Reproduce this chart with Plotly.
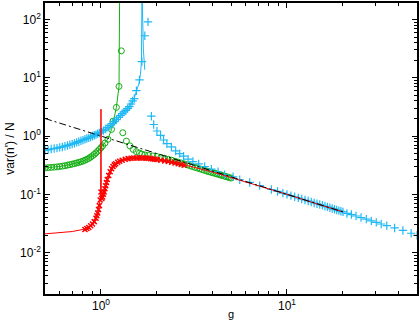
import plotly.graph_objects as go

# Colors
red = 'rgb(255,0,0)'
green = 'rgb(20,175,20)'
cyan = 'rgb(30,185,245)'
black = 'rgb(0,0,0)'

# ---- red : theory line + simulation (x markers)
red_line_g = [0.5, 0.6, 0.7, 0.8, 0.85, 0.9, 0.95, 0.98, 0.995, 1.0, 1.004, 1.02, 1.05,
              1.1, 1.2, 1.3, 1.4, 1.6, 1.8, 2.0, 2.5, 3.0, 4.0, 5.0, 7.0, 10.0, 14.0, 20.0]
red_line_v = [0.021, 0.022, 0.023, 0.025, 0.026, 0.030, 0.043, 0.064, 0.1, 2.9, 0.088, 0.09, 0.125,
              0.21, 0.335, 0.385, 0.41, 0.42, 0.415, 0.395, 0.345, 0.305, 0.24, 0.195, 0.142, 0.1, 0.071, 0.05]

red_sim_g = [0.82, 0.84, 0.86, 0.88, 0.90, 0.92, 0.94, 0.95, 0.96, 0.97, 0.98, 0.99, 1.0,
             1.01, 1.02, 1.03, 1.04, 1.05, 1.06, 1.07, 1.08, 1.10, 1.12, 1.14, 1.16, 1.18,
             1.20, 1.23, 1.26, 1.30, 1.35, 1.40, 1.45, 1.50, 1.55, 1.60, 1.65, 1.70, 1.75,
             1.80, 1.85, 1.90, 1.95, 2.00, 2.1, 2.2, 2.3, 2.4, 2.5, 2.6, 2.7, 2.8]
red_sim_v = [0.025, 0.026, 0.027, 0.029, 0.031, 0.034, 0.039, 0.043, 0.048, 0.055, 0.064, 0.08, 0.11,
             0.085, 0.09, 0.10, 0.11, 0.125, 0.14, 0.16, 0.18, 0.21, 0.245, 0.275, 0.30, 0.32,
             0.335, 0.355, 0.37, 0.385, 0.40, 0.41, 0.415, 0.42, 0.42, 0.42, 0.42, 0.42, 0.418,
             0.415, 0.41, 0.405, 0.40, 0.395, 0.385, 0.375, 0.365, 0.355, 0.345, 0.335, 0.325, 0.315]

# ---- green : theory line (below transition) + simulation (circles)
green_line_g = [0.5, 0.6, 0.7, 0.8, 0.9, 0.95, 1.0, 1.05, 1.09, 1.14, 1.17, 1.21, 1.25, 1.255, 1.26]
green_line_v = [0.285, 0.30, 0.33, 0.372, 0.46, 0.53, 0.63, 0.76, 0.9, 1.3, 1.8, 3.1, 7.1, 25, 300]

green_sim_g = [0.50, 0.52, 0.54, 0.56, 0.58, 0.60, 0.62, 0.64, 0.66, 0.68, 0.70, 0.72, 0.74,
               0.76, 0.78, 0.80, 0.82, 0.84, 0.86, 0.88, 0.90, 0.92, 0.94, 0.96, 0.98, 1.00,
               1.02, 1.05, 1.09, 1.14, 1.16, 1.21, 1.25,
               1.287, 1.31, 1.37, 1.43, 1.49, 1.55, 1.61, 1.66, 1.72, 1.8, 1.9, 2.0, 2.1,
               2.2, 2.3, 2.4, 2.5, 2.6, 2.7, 2.8, 2.9, 3.0, 3.1, 3.2, 3.3, 3.4, 3.5, 3.6,
               3.7, 3.8, 3.9, 4.0, 4.1, 4.2, 4.3, 4.4, 4.5, 4.6, 4.7, 4.8, 4.9, 5.0]
green_sim_v = [0.285, 0.287, 0.29, 0.293, 0.296, 0.30, 0.305, 0.31, 0.317, 0.323, 0.33, 0.337, 0.345,
               0.353, 0.362, 0.372, 0.385, 0.40, 0.415, 0.435, 0.46, 0.485, 0.515, 0.55, 0.59, 0.63,
               0.68, 0.76, 0.88, 1.3, 1.8, 3.1, 7.1,
               29.0, 1.14, 0.82, 0.68, 0.59, 0.54, 0.51, 0.49, 0.475, 0.465, 0.455, 0.445, 0.43,
               0.415, 0.40, 0.385, 0.37, 0.357, 0.345, 0.333, 0.322, 0.31, 0.30, 0.29, 0.282, 0.274, 0.266, 0.258,
               0.251, 0.245, 0.239, 0.234, 0.229, 0.224, 0.219, 0.214, 0.21, 0.206, 0.202, 0.198, 0.194, 0.19]

# ---- cyan : theory line (both sides of divergence) + simulation (plus markers)
cyan_line_g = [0.5, 0.6, 0.7, 0.8, 0.9, 1.0, 1.1, 1.2, 1.3, 1.4, 1.5, 1.55, 1.6, 1.63, 1.65, 1.66]
cyan_line_v = [0.57, 0.64, 0.73, 0.85, 1.0, 1.17, 1.45, 1.85, 2.35, 3.0, 4.2, 5.6, 8.0, 11.5, 19, 250]
cyan_line2_g = [1.665, 1.69, 1.72]
cyan_line2_v = [250, 30, 13.7]

cyan_sim_g = [0.50, 0.52, 0.54, 0.56, 0.58, 0.60, 0.62, 0.64, 0.66, 0.68, 0.70, 0.72, 0.74,
              0.76, 0.78, 0.80, 0.82, 0.84, 0.86, 0.88, 0.90, 0.92, 0.94, 0.96, 0.98, 1.00,
              1.03, 1.06, 1.09, 1.12, 1.15, 1.18, 1.21, 1.24, 1.27, 1.30, 1.33, 1.36, 1.39,
              1.42, 1.45, 1.48, 1.51, 1.55, 1.61, 1.66, 1.72, 1.79,
              1.866, 1.92, 2.0, 2.09, 2.17, 2.26, 2.39, 2.52, 2.65, 2.78, 2.94, 3.12, 3.35,
              3.61, 3.92, 4.26, 4.62, 5.13, 5.57, 6.3, 7.13, 8.24, 8.9,
              9.5, 10.0, 10.5, 11.0, 11.5, 12.0, 12.5, 13.0, 13.5, 14.0, 14.5, 15.0, 15.5,
              16.0, 16.5, 17.0, 17.5, 18.0, 18.5, 19.0, 19.5, 20.0,
              21.0, 22.2, 23.5, 25.0, 26.7, 28.4, 30.2, 32.1, 34.4, 37.9, 42.0, 46.5, 50.0]
cyan_sim_v = [0.57, 0.58, 0.60, 0.61, 0.62, 0.64, 0.65, 0.67, 0.69, 0.71, 0.73, 0.75, 0.78,
              0.80, 0.83, 0.85, 0.88, 0.91, 0.93, 0.96, 1.0, 1.03, 1.06, 1.10, 1.13, 1.17,
              1.24, 1.32, 1.41, 1.52, 1.64, 1.77, 1.92, 2.08, 2.25, 2.42, 2.6, 2.75, 2.95,
              3.2, 3.55, 4.0, 4.4, 6.0, 9.2, 18.9, 52.6, 91.0,
              2.19, 1.58, 1.22, 1.03, 0.855, 0.739, 0.65, 0.555, 0.5, 0.451, 0.401, 0.365, 0.333,
              0.30, 0.271, 0.244, 0.217, 0.20, 0.178, 0.16, 0.141, 0.121, 0.112,
              0.105, 0.1, 0.095, 0.091, 0.087, 0.083, 0.08, 0.077, 0.074, 0.071, 0.069, 0.067, 0.065,
              0.0625, 0.061, 0.059, 0.057, 0.0556, 0.054, 0.0526, 0.0513, 0.05,
              0.047, 0.045, 0.0425, 0.04, 0.0375, 0.035, 0.033, 0.031, 0.029, 0.0265, 0.024, 0.0215, 0.0198]

# ---- black dash-dot : asymptote
black_g = [0.5, 20.0]
black_v = [2.0, 0.05]

# Axis ticks
x_major = [1, 10]
x_major_text = ['10<sup>0</sup>', '10<sup>1</sup>']
x_minor = [0.6, 0.7, 0.8, 0.9, 2, 3, 4, 5, 6, 7, 8, 9, 20, 30, 40]
y_major = [0.01, 0.1, 1, 10, 100]
y_major_text = ['10<sup>-2</sup>', '10<sup>-1</sup>', '10<sup>0</sup>', '10<sup>1</sup>', '10<sup>2</sup>']
y_minor = [m * 10.0 ** e for e in range(-3, 3) for m in range(2, 10)]

fig = go.Figure()

fig.add_trace(go.Scatter(x=green_sim_g, y=green_sim_v, mode='markers',
                         marker=dict(symbol='circle-open', size=6, color=green, line=dict(width=1, color=green))))
fig.add_trace(go.Scatter(x=green_line_g, y=green_line_v, mode='lines', line=dict(color=green, width=1)))

fig.add_trace(go.Scatter(x=cyan_sim_g, y=cyan_sim_v, mode='markers',
                         marker=dict(symbol='cross-thin', size=6, color=cyan, line=dict(width=1.2, color=cyan))))
fig.add_trace(go.Scatter(x=cyan_line_g, y=cyan_line_v, mode='lines', line=dict(color=cyan, width=1)))
fig.add_trace(go.Scatter(x=cyan_line2_g, y=cyan_line2_v, mode='lines', line=dict(color=cyan, width=1)))

fig.add_trace(go.Scatter(x=red_sim_g, y=red_sim_v, mode='markers',
                         marker=dict(symbol='x-thin', size=5, color=red, line=dict(width=1.5, color=red))))
fig.add_trace(go.Scatter(x=red_line_g, y=red_line_v, mode='lines', line=dict(color=red, width=1)))

fig.add_trace(go.Scatter(x=black_g, y=black_v, mode='lines',
                         line=dict(color=black, width=1, dash='7px,3px,2px,3px')))

axis_common = dict(type='log', showgrid=False, zeroline=False,
                   showline=True, linecolor='black', linewidth=1.5, mirror='allticks',
                   ticks='inside', ticklen=5, tickwidth=1, tickcolor='black',
                   tickfont=dict(size=12, color='black'))

fig.update_layout(
    width=420, height=321,
    margin=dict(l=45, r=2, t=1, b=27),
    plot_bgcolor='white', paper_bgcolor='white',
    showlegend=False,
    font=dict(family='Liberation Sans, Arial, sans-serif', color='black'),
    xaxis=dict(axis_common, range=[-0.30103, 1.69897],
               tickvals=x_major, ticktext=x_major_text,
               minor=dict(tickvals=x_minor, ticks='inside', ticklen=3, tickcolor='black', showgrid=False)),
    yaxis=dict(axis_common, range=[-2.71, 2.283],
               tickvals=y_major, ticktext=y_major_text,
               minor=dict(tickvals=y_minor, ticks='inside', ticklen=3, tickcolor='black', showgrid=False),
               title=dict(text="var(n') / N", font=dict(size=12), standoff=3)),
)

# x axis label sits tight under the tick labels
fig.add_annotation(text='g', xref='paper', yref='paper', x=0.5, y=-0.093,
                   xanchor='center', yanchor='bottom', showarrow=False,
                   borderpad=0, font=dict(size=11, color='black'))

# drop the default 8px body margin so the figure sits flush in the window
fig.write_html("out.html", config={'displayModeBar': False},
               post_script="document.body.style.margin='0px';")
